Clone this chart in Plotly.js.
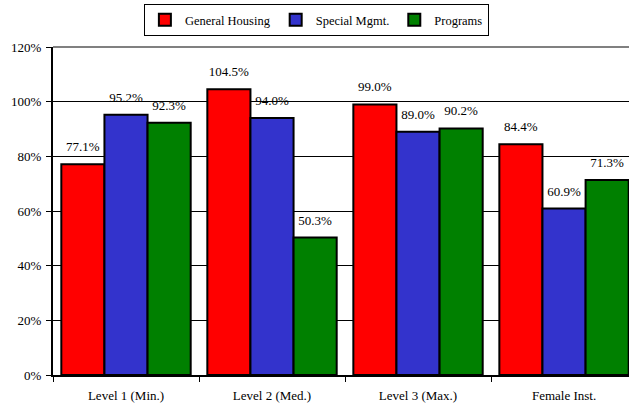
<!DOCTYPE html>
<html>
<head>
<meta charset="utf-8">
<script src="https://cdn.plot.ly/plotly-3.0.1.min.js"></script>
<style>html,body{margin:0;padding:0;overflow:hidden;background:#fff}</style>
</head>
<body>
<div id="chart" style="width:629px;height:404px"></div>
<script>
var categories = ["Level 1 (Min.)", "Level 2 (Med.)", "Level 3 (Max.)", "Female Inst."];
var seriesNames = ["General Housing", "Special Mgmt.", "Programs"];
var generalHousing = [77.1, 104.5, 99.0, 84.4];
var specialMgmt = [95.2, 94.0, 89.0, 60.9];
var programs = [92.3, 50.3, 90.2, 71.3];
var yTickValues = [0, 20, 40, 60, 80, 100, 120];
var yTickLabels = ["0%", "20%", "40%", "60%", "80%", "100%", "120%"];

var colors = ["#FF0000", "#3333CC", "#008000"];
var allSeries = [generalHousing, specialMgmt, programs];
var serif = "Liberation Serif";

var traces = [];
allSeries.forEach(function (vals, i) {
  traces.push({
    type: "bar",
    name: seriesNames[i],
    x: categories,
    y: vals,
    offsetgroup: "g" + i,
    marker: { color: colors[i], line: { color: "#000", width: 2 } },
    hoverinfo: "skip"
  });
});
allSeries.forEach(function (vals, i) {
  traces.push({
    type: "scatter",
    mode: "markers+text",
    x: categories,
    y: vals,
    offsetgroup: "g" + i,
    text: vals.map(function (v) { return v.toFixed(1) + "%"; }),
    textposition: "top center",
    textfont: { family: serif, size: 13, color: "#000" },
    marker: { size: 14, opacity: 0 },
    showlegend: false,
    cliponaxis: false,
    hoverinfo: "skip"
  });
});

var layout = {
  width: 629,
  height: 404,
  margin: { l: 53, r: 0, t: 47, b: 29, pad: 0 },
  paper_bgcolor: "#fff",
  plot_bgcolor: "#fff",
  barmode: "group",
  bargap: 0.114,
  bargroupgap: 0,
  scattermode: "group",
  scattergap: 0.114,
  font: { family: serif, size: 12, color: "#000" },
  showlegend: true,
  legend: {
    orientation: "h",
    xref: "container", x: 0.503, xanchor: "center",
    yref: "container", y: 0.99, yanchor: "top",
    bordercolor: "#000", borderwidth: 1,
    font: { family: serif, size: 12.5, color: "#000" },
    itemwidth: 30,
    tracegroupgap: 0
  },
  xaxis: {
    type: "category",
    range: [-0.5, 3.445],
    showgrid: false,
    showline: true, linecolor: "#000", linewidth: 2,
    ticks: "outside", tickson: "boundaries", ticklen: 5, tickcolor: "#000",
    ticklabelstandoff: 7,
    tickfont: { family: serif, size: 13, color: "#000" },
    zeroline: false,
    fixedrange: true
  },
  yaxis: {
    range: [0, 120],
    tickvals: yTickValues,
    ticktext: yTickLabels,
    showgrid: true, gridcolor: "#000", gridwidth: 1,
    showline: true, linecolor: "#000", linewidth: 2,
    ticks: "outside", ticklen: 5, tickcolor: "#000",
    ticklabelstandoff: 2,
    tickfont: { family: serif, size: 13, color: "#000" },
    zeroline: false,
    fixedrange: true
  },
  shapes: [{
    type: "line", xref: "paper", yref: "paper",
    x0: 0, x1: 1, y0: 1, y1: 1,
    line: { color: "#808080", width: 2 }
  }]
};

Plotly.newPlot("chart", traces, layout, { displayModeBar: false, staticPlot: true });
</script>
</body>
</html>
